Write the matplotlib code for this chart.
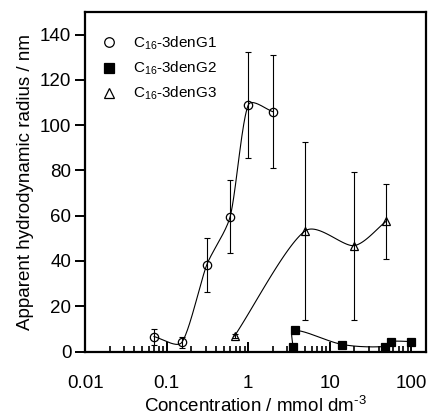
import numpy as np
import matplotlib
matplotlib.use('Agg')
import matplotlib.pyplot as plt
from matplotlib.ticker import LogLocator, NullFormatter

plt.rcParams['font.family'] = ['Liberation Sans', 'DejaVu Sans']
plt.rcParams['mathtext.fontset'] = 'custom'
plt.rcParams['mathtext.rm'] = 'Liberation Sans'
plt.rcParams['mathtext.it'] = 'Liberation Sans:italic'

# Datos
g1_x = [0.07, 0.153, 0.31, 0.6, 1.0, 2.0]
g1_y = [6.6, 4.0, 38.3, 59.6, 108.9, 106.0]
g1_err = [3.5, 2.5, 11.8, 16.0, 23.5, 25.0]

g2_x = [3.5, 3.73, 14.3, 47.0, 55.8, 100.0]
g2_y = [2.2, 9.3, 3.1, 2.2, 4.4, 4.4]
g2_err = [0.8, 0.5, 0.5, 0.3, 0.5, 0.5]

g3_x = [0.68, 4.94, 19.8, 49.0]
g3_y = [6.9, 53.2, 46.8, 57.5]
g3_err = [1.0, 39.3, 32.7, 16.4]

labels = ['C$_{\\rm 16}$-3denG1', 'C$_{\\rm 16}$-3denG2', 'C$_{\\rm 16}$-3denG3']


def suave(xs, ys, k=0.7, n=40):
    # curva suave (spline cardinal) en espacio log-x
    P = np.column_stack([np.log10(np.asarray(xs)) * 81.7,
                         np.asarray(ys) * 45.3 / 20])
    d = np.linalg.norm(np.diff(P, axis=0), axis=1) ** 0.5
    t = np.concatenate([[0], np.cumsum(d)])
    m = np.zeros_like(P)
    for i in range(len(P)):
        a, b = max(i - 1, 0), min(i + 1, len(P) - 1)
        m[i] = k * (P[b] - P[a]) / (t[b] - t[a])
    out = []
    for i in range(len(P) - 1):
        h = t[i + 1] - t[i]
        s = np.linspace(0, 1, n)[:, None]
        h00 = 2 * s**3 - 3 * s**2 + 1
        h10 = s**3 - 2 * s**2 + s
        h01 = -2 * s**3 + 3 * s**2
        h11 = s**3 - s**2
        out.append(h00 * P[i] + h10 * h * m[i] + h01 * P[i + 1] + h11 * h * m[i + 1])
    c = np.vstack(out)
    return 10 ** (c[:, 0] / 81.7), c[:, 1] * 20 / 45.3


fig = plt.figure(figsize=(4.3, 4.16), dpi=100)
ax = fig.add_axes([0.198, 0.155, 0.792, 0.816])

series = [
    (g1_x, g1_y, g1_err, 'o', 'none', 0.7),
    (g2_x, g2_y, g2_err, 's', 'black', 1.0),
    (g3_x, g3_y, g3_err, '^', 'none', 0.8),
]
handles = []
for (xs, ys, es, m, fc, k), lab in zip(series, labels):
    cx, cy = suave(xs, ys, k)
    ax.plot(cx, cy, color='black', lw=0.8, zorder=2)
    ax.errorbar(xs, ys, yerr=es, fmt='none', ecolor='black', elinewidth=0.8,
                capsize=2.2, capthick=0.8, zorder=3)
    h, = ax.plot(xs, ys, ls='none', marker=m, ms=6,
                 mfc=fc, mec='black', mew=0.9, zorder=4, label=lab)
    handles.append(h)

ax.set_xscale('log')
ax.set_xlim(0.01, 150)
ax.set_ylim(0, 150)
ax.set_yticks([0, 20, 40, 60, 80, 100, 120, 140])
ax.set_xticks([0.01, 0.1, 1, 10, 100])
ax.set_xticklabels(['0.01', '0.1', '1', '10', '100'])
ax.xaxis.set_minor_locator(LogLocator(base=10, subs=np.arange(2, 10)))
ax.xaxis.set_minor_formatter(NullFormatter())

for s in ax.spines.values():
    s.set_linewidth(1.6)
ax.tick_params(axis='x', which='major', direction='in', length=7, width=1.4,
               labelsize=13.5, pad=17)
ax.tick_params(axis='x', which='minor', direction='in', length=4, width=1.2)
ax.tick_params(axis='y', which='major', direction='out', length=7, width=1.4,
               labelsize=13.5, pad=3)

ax.set_xlabel('Concentration / mmol dm$^{\\rm \\text{-}3}$', fontsize=13.5, labelpad=3)
ax.set_ylabel('Apparent hydrodynamic radius / nm', fontsize=13.5, labelpad=4)

ax.legend(handles=handles, loc='upper left', bbox_to_anchor=(0.02, 0.96),
          frameon=False, fontsize=11, handlelength=1.0, handletextpad=1.1,
          labelspacing=0.5, borderaxespad=0.2, markerscale=1.15)

fig.savefig('out.png', dpi=100)
